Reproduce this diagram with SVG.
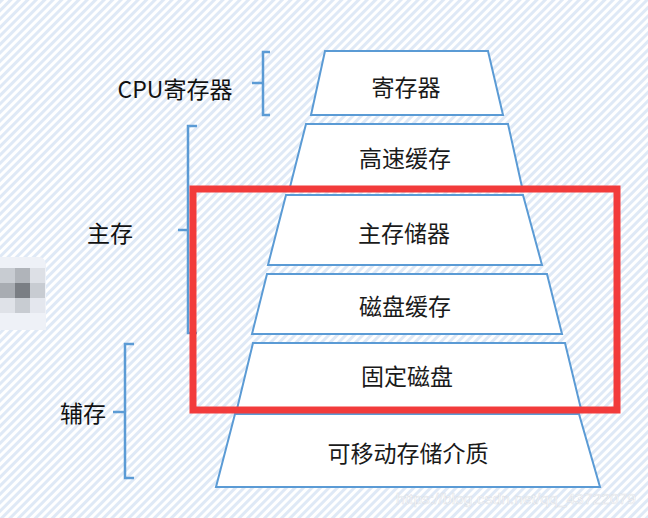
<svg xmlns="http://www.w3.org/2000/svg" width="648" height="518" viewBox="0 0 648 518">
<defs>
<pattern id="stripes" width="6" height="6" patternUnits="userSpaceOnUse" patternTransform="rotate(45)">
<rect width="6" height="6" fill="#ffffff"/>
<rect width="3" height="6" fill="#dfe9f6"/>
</pattern>
<style>
.tz{fill:#ffffff;stroke:#5b9bd5;stroke-width:2;stroke-linejoin:miter}
.br{fill:none;stroke:#5b9bd5;stroke-width:2.5}
.t{font-family:"Noto Sans CJK SC","Noto Sans",sans-serif;font-size:23px;fill:#1a1a1a;text-anchor:middle;dominant-baseline:central}
.lbl{font-family:"Noto Sans CJK SC","Noto Sans",sans-serif;font-size:23px;fill:#111111;text-anchor:middle;dominant-baseline:central}
</style>
</defs>
<rect width="648" height="518" fill="url(#stripes)"/>
<g id="blur">
<path d="M0,257 H38 Q46,257 46,266 V330 H0 Z" fill="#eef1f7"/>
<rect x="0" y="268" width="15" height="15" fill="#c8ccd2"/>
<rect x="15" y="268" width="15" height="15" fill="#b0b4ba"/>
<rect x="30" y="268" width="15" height="15" fill="#dde0e6"/>
<rect x="0" y="283" width="15" height="15" fill="#a8acb2"/>
<rect x="15" y="283" width="15" height="15" fill="#7a7e84"/>
<rect x="30" y="283" width="15" height="15" fill="#c8ccd2"/>
<rect x="0" y="298" width="15" height="15" fill="#dfe2e8"/>
<rect x="15" y="298" width="15" height="15" fill="#c8ccd2"/>
<rect x="30" y="298" width="15" height="15" fill="#e4e7ee"/>
</g>
<g id="n1"><polygon class="tz" points="325,51 488,51 503,115 311,115"/><text class="t" x="406" y="86">寄存器</text></g>
<g id="n2"><polygon class="tz" points="306,124 508,124 522,187 290,187"/><text class="t" x="405" y="157">高速缓存</text></g>
<g id="n3"><polygon class="tz" points="286,195 523,195 542,265 268,265"/><text class="t" x="404" y="232">主存储器</text></g>
<g id="n4"><polygon class="tz" points="267,274 547,274 562,334 252,334"/><text class="t" x="405" y="305">磁盘缓存</text></g>
<g id="n5"><polygon class="tz" points="253,343 565,343 581,409 237,409"/><text class="t" x="407" y="375">固定磁盘</text></g>
<g id="n6"><polygon class="tz" points="235,414 579,414 600,487 216,487"/><text class="t" x="408" y="452">可移动存储介质</text></g>
<g id="labels">
<text class="lbl" x="175" y="88">CPU寄存器</text>
<text class="lbl" x="110" y="232">主存</text>
<text class="lbl" x="83" y="412">辅存</text>
</g>
<g id="braces">
<path class="br" d="M270,52 H263 V115 H270 M263,83 H252"/>
<path class="br" d="M197,126 H188 V333 H197 M188,230 H178"/>
<path class="br" d="M134,344 H125 V478 H134 M125,412 H113"/>
</g>
<rect id="highlight" x="193" y="189" width="424" height="221" fill="none" stroke="#f23b3b" stroke-width="7"/>
<text x="396" y="504" textLength="240" lengthAdjust="spacingAndGlyphs" style="font-family:'Liberation Sans',sans-serif;font-size:14px;fill:#ffffff;fill-opacity:0.85;stroke:#c8ccd4;stroke-width:0.5;stroke-opacity:0.6">https://blog.csdn.net/qq_43722079</text>
</svg>
